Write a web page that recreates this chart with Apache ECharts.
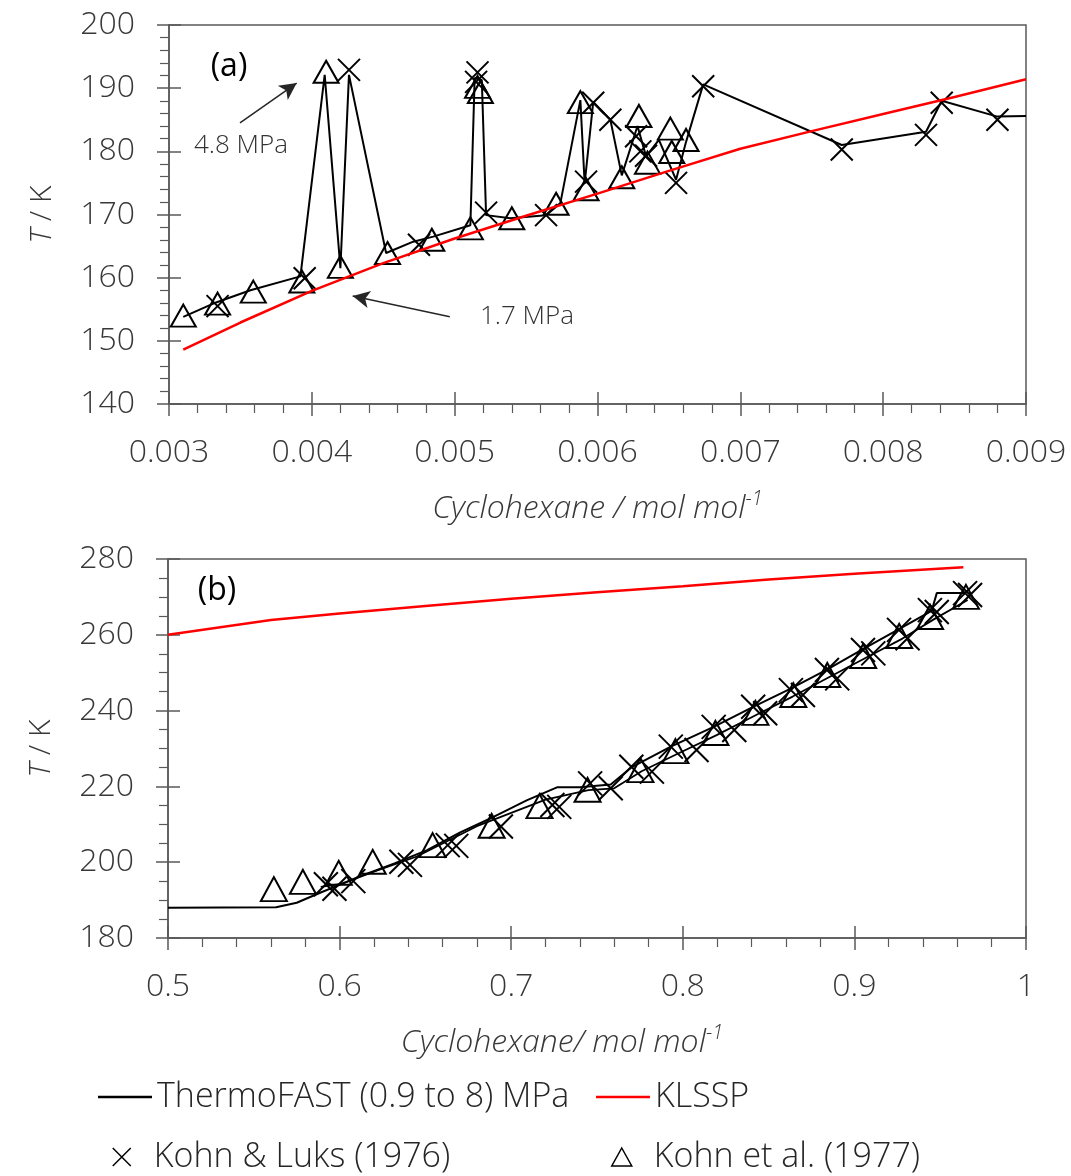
<!DOCTYPE html>
<html>
<head>
<meta charset="utf-8">
<script src="https://cdn.jsdelivr.net/npm/echarts@6/dist/echarts.min.js"></script>
<style>
  html, body { margin: 0; padding: 0; background: #ffffff; }
  #chart { width: 1071px; height: 1176px; }
</style>
</head>
<body>
<div id="chart"></div>
<script>
// ---------- Panel (a): dilute cyclohexane region ----------
const thermoFastA = [
  [0.00310,153.8],[0.00331,155.9],[0.00357,158.0],[0.00392,160.2],[0.00409,192.1],
  [0.00420,161.5],[0.00426,192.1],[0.00452,163.9],[0.00471,165.7],[0.00485,166.5],
  [0.00511,168.3],[0.00514,191.6],[0.00519,191.3],[0.00522,169.9],[0.00539,169.4],
  [0.00564,169.9],[0.00574,171.8],[0.00588,188.1],[0.00591,174.9],[0.00597,187.8],
  [0.00609,185.0],[0.00617,176.2],[0.00628,184.0],[0.00634,179.2],[0.00643,181.8],
  [0.00655,175.5],[0.00662,181.5],[0.00674,190.6],[0.00771,181.0],[0.00830,183.1],
  [0.00841,188.0],[0.00880,185.5],[0.00900,185.6]
];
const klsspA = [
  [0.0031,148.6],[0.0035,152.9],[0.0040,157.9],[0.0045,162.3],[0.0050,166.2],
  [0.0055,169.8],[0.0060,173.3],[0.0065,176.9],[0.0070,180.4],[0.0075,183.2],
  [0.0080,185.9],[0.0085,188.6],[0.0090,191.4]
];
const kohnLuksA = [
  [0.00334,155.5],[0.00395,159.9],[0.00426,192.9],[0.00475,165.2],[0.00516,192.5],
  [0.00515,191.0],[0.00522,170.3],[0.00564,169.9],[0.00592,175.2],[0.00597,187.7],
  [0.00609,185.0],[0.00627,182.4],[0.00630,180.0],[0.00634,179.3],[0.00655,175.0],
  [0.00674,190.3],[0.00771,180.3],[0.00830,182.6],[0.00841,187.7],[0.00880,185.0]
];
const kohnEtAlA = [
  [0.00310,154.0],[0.00334,155.9],[0.00359,157.8],[0.00393,159.4],[0.00410,192.6],
  [0.00420,161.7],[0.00453,163.9],[0.00484,166.0],[0.00511,167.8],[0.00516,190.2],
  [0.00518,189.4],[0.00540,169.4],[0.00571,171.7],[0.00588,187.8],[0.00592,174.0],
  [0.00617,175.9],[0.00629,185.6],[0.00635,178.2],[0.00651,183.6],[0.00652,179.9],
  [0.00662,181.8]
];
// pressure arrows, [tail, head] in data units
const arrow48 = [[0.003497,184.5],[0.003894,190.8]];
const arrow17 = [[0.004966,153.8],[0.004286,157.1]];

// ---------- Panel (b): concentrated cyclohexane region ----------
const thermoFastB1 = [
  [0.500,188.0],[0.563,188.1],[0.575,189.3],[0.589,192.0],[0.600,194.0],[0.612,196.3],
  [0.632,199.7],[0.651,203.2],[0.670,207.8],[0.690,212.0],[0.709,216.3],[0.727,219.8],
  [0.740,219.8],[0.758,220.5],[0.770,225.0],[0.793,230.5],[0.818,235.7],[0.841,241.0],
  [0.862,245.6],[0.884,250.8],[0.905,256.2],[0.926,261.5],[0.945,266.3],[0.948,271.0],
  [0.964,271.0]
];
const thermoFastB2 = [
  [0.589,193.5],[0.601,194.3],[0.620,197.5],[0.645,201.5],[0.680,209.5],[0.720,216.5],
  [0.745,219.0],[0.760,219.5],[0.776,224.0],[0.797,228.6],[0.820,233.6],[0.843,238.9],
  [0.864,243.7],[0.886,249.0],[0.907,254.0],[0.928,259.0],[0.946,264.0],[0.966,269.2]
];
const klsspB = [
  [0.500,260.0],[0.560,263.9],[0.600,265.6],[0.650,267.6],[0.700,269.5],[0.750,271.2],
  [0.800,272.8],[0.850,274.6],[0.900,276.1],[0.9635,277.8]
];
const kohnLuksB = [
  [0.592,194.2],[0.597,193.0],[0.608,195.0],[0.636,200.1],[0.641,199.3],[0.663,204.5],
  [0.668,204.3],[0.694,209.4],[0.724,215.1],[0.728,214.6],[0.746,220.8],[0.758,219.5],
  [0.770,225.2],[0.782,223.9],[0.793,230.5],[0.808,229.6],[0.818,235.7],[0.830,234.9],
  [0.841,241.0],[0.848,239.3],[0.863,245.4],[0.870,244.1],[0.884,250.7],[0.890,248.5],
  [0.905,256.0],[0.911,255.1],[0.926,261.3],[0.931,259.1],[0.944,266.5],[0.948,266.0],
  [0.9645,271.0],[0.9674,270.5]
];
const kohnEtAlB = [
  [0.5617,192.9],[0.5786,194.8],[0.5995,197.2],[0.6193,200.1],[0.6542,204.5],[0.6886,209.6],
  [0.7165,214.8],[0.7445,219.1],[0.7753,224.3],[0.7957,229.3],[0.8190,234.1],[0.8423,239.4],
  [0.8644,244.1],[0.8842,249.4],[0.9051,254.4],[0.9261,259.7],[0.9441,264.7],[0.9650,270.0]
];

const NAME_TF = 'ThermoFAST (0.9 to 8) MPa';
const NAME_KL = 'KLSSP';
const NAME_KLUKS = 'Kohn & Luks (1976)';
const NAME_KOHN = 'Kohn et al. (1977)';

const FONT = "'Open Sans', 'Noto Sans', sans-serif";
const AXIS_COLOR = '#595959';
const LABEL_COLOR = '#383838';
const CROSS = 'path://M0,0L20,20M20,0L0,20';
const CROSS_ICON = 'path://M0,0L18,18M18,0L0,18';
const TRI_ICON = 'path://M10,0L20,18L0,18Z';

const axisLineStyle = { color: AXIS_COLOR, width: 1.5 };

function mainXAxis(grid, min, max, step, fmt, nameText, namePad) {
  return {
    type: 'value', gridIndex: grid, position: 'bottom', min: min, max: max, interval: step,
    axisLine: { show: true, onZero: false, lineStyle: axisLineStyle },
    axisTick: { show: true, inside: false, length: 12, lineStyle: axisLineStyle },
    minorTick: { show: true, splitNumber: 5, length: 9, lineStyle: { color: AXIS_COLOR, width: 1.2 } },
    splitLine: { show: false },
    axisLabel: { formatter: fmt, fontSize: 32, fontFamily: FONT, fontWeight: 300, color: LABEL_COLOR, margin: 33,
                 showMinLabel: true, showMaxLabel: true },
    name: nameText, nameLocation: 'middle', nameGap: 85,
    nameTextStyle: {
      padding: namePad,
      rich: {
        i: { fontStyle: 'italic', fontSize: 32, fontFamily: FONT, fontWeight: 300, color: LABEL_COLOR, lineHeight: 40 },
        s: { fontStyle: 'italic', fontSize: 20, fontFamily: FONT, fontWeight: 300, color: LABEL_COLOR, verticalAlign: 'top', lineHeight: 26 }
      }
    }
  };
}
function innerXAxis(grid, min, max, step) {
  return {
    type: 'value', gridIndex: grid, position: 'bottom', min: min, max: max, interval: step,
    axisLine: { show: false, onZero: false },
    axisTick: { show: true, inside: true, length: 12, lineStyle: axisLineStyle },
    axisLabel: { show: false }, splitLine: { show: false }
  };
}
function mainYAxis(grid, min, max, step, minorSplit) {
  return {
    type: 'value', gridIndex: grid, position: 'left', min: min, max: max, interval: step,
    axisLine: { show: true, onZero: false, lineStyle: axisLineStyle },
    axisTick: { show: true, inside: false, length: 12, lineStyle: axisLineStyle },
    minorTick: { show: true, splitNumber: minorSplit, length: 9, lineStyle: { color: AXIS_COLOR, width: 1.2 } },
    splitLine: { show: false },
    axisLabel: { fontSize: 32, fontFamily: FONT, fontWeight: 300, color: LABEL_COLOR, margin: 34,
                 showMinLabel: true, showMaxLabel: true },
    name: '{i|T}{n| / K}', nameLocation: 'middle', nameGap: 107, nameRotate: 90,
    nameTextStyle: {
      rich: {
        i: { fontStyle: 'italic', fontSize: 30, fontFamily: FONT, fontWeight: 300, color: LABEL_COLOR, lineHeight: 40 },
        n: { fontSize: 30, fontFamily: FONT, fontWeight: 300, color: LABEL_COLOR, lineHeight: 40 }
      }
    }
  };
}
function innerYAxis(grid, min, max, step) {
  return {
    type: 'value', gridIndex: grid, position: 'left', min: min, max: max, interval: step,
    axisLine: { show: false, onZero: false },
    axisTick: { show: true, inside: true, length: 12, lineStyle: axisLineStyle },
    axisLabel: { show: false }, splitLine: { show: false }
  };
}

function lineSeries(name, data, xi, color, width, z) {
  return {
    type: 'line', name: name, data: data, xAxisIndex: xi, yAxisIndex: xi,
    symbol: 'none', showSymbol: false, smooth: false, z: z,
    lineStyle: { color: color, width: width }, itemStyle: { color: color },
    emphasis: { disabled: true }, silent: true
  };
}
function markerSeries(name, data, xi, symbol, size, z) {
  return {
    type: 'scatter', name: name, data: data, xAxisIndex: xi, yAxisIndex: xi,
    symbol: symbol, symbolSize: size, symbolKeepAspect: true, z: z,
    itemStyle: { color: 'rgba(0,0,0,0)', borderColor: '#000000', borderWidth: 2, opacity: 1 },
    emphasis: { disabled: true }, silent: true
  };
}
function arrowLine(a) {
  return [{ coord: a[0], symbol: 'none' }, { coord: a[1], symbol: 'arrow', symbolSize: [13, 17] }];
}

const legendText = { fontSize: 34, fontFamily: FONT, fontWeight: 300, color: '#262626', lineHeight: 40 };
function legendAt(name, left, top, icon, itemH) {
  return {
    data: [{ name: name, icon: icon }], left: left, top: top, orient: 'horizontal', padding: 0,
    itemWidth: 54, itemHeight: itemH, symbolKeepAspect: true, selectedMode: false,
    itemStyle: { borderWidth: 1.5 },
    textStyle: legendText
  };
}

const option = {
  animation: false,
  backgroundColor: '#ffffff',
  grid: [
    { left: 169, top: 25, width: 857, height: 379, show: true, borderColor: AXIS_COLOR, borderWidth: 1.5,
      backgroundColor: 'transparent', containLabel: false },
    { left: 168, top: 559, width: 858, height: 379, show: true, borderColor: AXIS_COLOR, borderWidth: 1.5,
      backgroundColor: 'transparent', containLabel: false }
  ],
  xAxis: [
    mainXAxis(0, 0.003, 0.009, 0.001, v => v.toFixed(3), '{i|Cyclohexane / mol mol}{s|-1}', [0, 0, 0, 0]),
    innerXAxis(0, 0.003, 0.009, 0.001),
    mainXAxis(1, 0.5, 1.0, 0.1, v => String(Math.round(v * 10) / 10), '{i|Cyclohexane/ mol mol}{s|-1}', [0, 70, 0, 0]),
    innerXAxis(1, 0.5, 1.0, 0.1)
  ],
  yAxis: [
    mainYAxis(0, 140, 200, 10, 5),
    innerYAxis(0, 140, 200, 10),
    mainYAxis(1, 180, 280, 20, 4),
    innerYAxis(1, 180, 280, 20)
  ],
  legend: [
    legendAt(NAME_TF, 98, 1077, 'rect', 2.5),
    legendAt(NAME_KL, 596, 1077, 'rect', 2.5),
    legendAt(NAME_KLUKS, 112, 1137, CROSS_ICON, 18),
    legendAt(NAME_KOHN, 611, 1137, TRI_ICON, 18)
  ],
  series: [
    lineSeries(NAME_TF, thermoFastA, 0, '#000000', 2, 2),
    markerSeries(NAME_KLUKS, kohnLuksA, 0, CROSS, 22, 3),
    markerSeries(NAME_KOHN, kohnEtAlA, 0, 'triangle', [25, 22], 3),
    Object.assign(lineSeries(NAME_KL, klsspA, 0, '#ff0000', 2.5, 4), {
      markLine: {
        silent: true, animation: false,
        label: { show: false },
        lineStyle: { color: '#262626', width: 1.5, type: 'solid' },
        itemStyle: { color: '#000000' },
        emphasis: { disabled: true },
        data: [arrowLine(arrow48), arrowLine(arrow17)]
      }
    }),

    lineSeries(NAME_TF, thermoFastB1, 2, '#000000', 2, 2),
    lineSeries(NAME_TF, thermoFastB2, 2, '#000000', 1.8, 2),
    markerSeries(NAME_KLUKS, kohnLuksB, 2, CROSS, 24, 3),
    markerSeries(NAME_KOHN, kohnEtAlB, 2, 'triangle', [26, 24], 3),
    lineSeries(NAME_KL, klsspB, 2, '#ff0000', 2.5, 4)
  ],
  graphic: [
    { type: 'text', x: 229, y: 67, style: { text: '(a)', fontSize: 32, fontFamily: FONT, fill: '#000000', align: 'center', verticalAlign: 'middle' } },
    { type: 'text', x: 217, y: 591, style: { text: '(b)', fontSize: 32, fontFamily: FONT, fill: '#000000', align: 'center', verticalAlign: 'middle' } },
    { type: 'text', x: 241, y: 146, style: { text: '4.8 MPa', fontSize: 26, fontFamily: FONT, fontWeight: 300, fill: '#333333', align: 'center', verticalAlign: 'middle' } },
    { type: 'text', x: 527, y: 317, style: { text: '1.7 MPa', fontSize: 26, fontFamily: FONT, fontWeight: 300, fill: '#333333', align: 'center', verticalAlign: 'middle' } }
  ]
};

const chart = echarts.init(document.getElementById('chart'), null, { renderer: 'canvas' });
chart.setOption(option);
</script>
</body>
</html>
